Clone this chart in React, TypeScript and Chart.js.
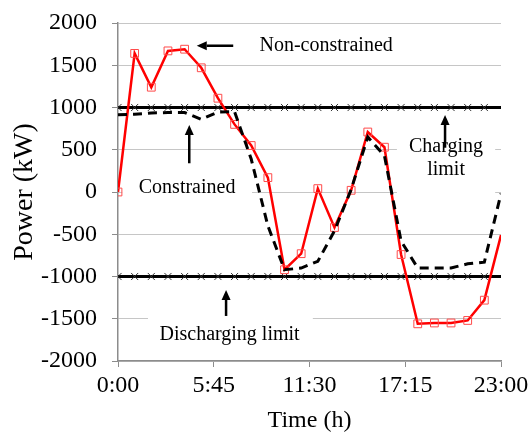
import React, { useEffect, useRef } from "react";
import { Chart, registerables } from "chart.js";

Chart.register(...registerables);

// Hourly time stamps (h)
const HOURS = [0, 1, 2, 3, 4, 5, 6, 7, 8, 9, 10, 11, 12, 13, 14, 15, 16, 17, 18, 19, 20, 21, 22, 23];

// Battery power without limits (kW)
const NON_CONSTRAINED = [
  0, 1640, 1240, 1670, 1690, 1470, 1110, 800, 550, 170, -920, -730,
  40, -420, 20, 710, 530, -740, -1560, -1550, -1550, -1520, -1280, -510,
];

// Battery power respecting charge/discharge limits (kW)
const CONSTRAINED = [
  915, 920, 935, 940, 940, 860, 945, 950, 390, -400, -920, -900,
  -820, -460, 30, 650, 430, -580, -900, -900, -900, -850, -830, -20,
];

const CHARGING_LIMIT = [
  1000, 1000, 1000, 1000, 1000, 1000, 1000, 1000, 1000, 1000, 1000, 1000,
  1000, 1000, 1000, 1000, 1000, 1000, 1000, 1000, 1000, 1000, 1000, 1000,
];

const DISCHARGING_LIMIT = [
  -1000, -1000, -1000, -1000, -1000, -1000, -1000, -1000, -1000, -1000, -1000, -1000,
  -1000, -1000, -1000, -1000, -1000, -1000, -1000, -1000, -1000, -1000, -1000, -1000,
];

const TIME_TICKS = [0, 5.75, 11.5, 17.25, 23];
const TIME_LABELS = ["0:00", "5:45", "11:30", "17:15", "23:00"];

const SERIF = "'Liberation Serif', 'Times New Roman', Times, serif";
const AXIS_GRAY = "#8c8c8c";
const GRID_GRAY = "#c6c6c6";

// White boxes behind the callout texts (hours / kW)
const LABEL_BOXES = [
  { h0: 0.25, h1: 8.05, v0: 240, v1: -95 },
  { h0: 16.75, h1: 22.65, v0: 620, v1: -50 },
  { h0: 1.8, h1: 11.7, v0: -1390, v1: -1890 },
];

// Callout texts, anchored at their centre (hours / kW)
const NOTES = [
  { lines: ["Non-constrained"], h: 12.5, v: 1730 },
  { lines: ["Constrained"], h: 4.15, v: 55 },
  { lines: ["Charging", "limit"], h: 19.7, v: 400 },
  { lines: ["Discharging limit"], h: 6.7, v: -1685 },
];

// Callout arrows, tail -> tip (hours / kW)
const ARROWS = [
  { h0: 6.92, v0: 1731, h1: 4.73, v1: 1731 },
  { h0: 4.28, v0: 340, h1: 4.28, v1: 793 },
  { h0: 19.64, v0: 524, h1: 19.64, v1: 911 },
  { h0: 6.49, v0: -1467, h1: 6.49, v1: -1160 },
];

const toPoints = (values: number[]) => values.map((v, i) => ({ x: HOURS[i], y: v }));

function drawArrow(ctx: CanvasRenderingContext2D, x0: number, y0: number, x1: number, y1: number) {
  const ang = Math.atan2(y1 - y0, x1 - x0);
  const head = 10;
  const half = 4.5;
  const bx = x1 - head * Math.cos(ang);
  const by = y1 - head * Math.sin(ang);
  ctx.beginPath();
  ctx.moveTo(x0, y0);
  ctx.lineTo(bx, by);
  ctx.stroke();
  ctx.beginPath();
  ctx.moveTo(x1, y1);
  ctx.lineTo(bx + half * Math.sin(ang), by - half * Math.cos(ang));
  ctx.lineTo(bx - half * Math.sin(ang), by + half * Math.cos(ang));
  ctx.closePath();
  ctx.fill();
}

const calloutPlugin = {
  id: "callouts",
  beforeDatasetsDraw(chart: any) {
    const { ctx, scales } = chart;
    const x = scales.x;
    const y = scales.y;
    ctx.save();
    ctx.fillStyle = "#ffffff";
    for (const b of LABEL_BOXES) {
      const px0 = x.getPixelForValue(b.h0);
      const px1 = x.getPixelForValue(b.h1);
      const py0 = y.getPixelForValue(b.v0);
      const py1 = y.getPixelForValue(b.v1);
      ctx.fillRect(px0, py0, px1 - px0, py1 - py0);
    }
    ctx.restore();
  },
  afterDatasetsDraw(chart: any) {
    const { ctx, scales } = chart;
    const x = scales.x;
    const y = scales.y;
    ctx.save();
    ctx.fillStyle = "#000";
    ctx.font = `20px ${SERIF}`;
    ctx.textAlign = "center";
    ctx.textBaseline = "middle";
    for (const n of NOTES) {
      const cx = x.getPixelForValue(n.h);
      const cy = y.getPixelForValue(n.v);
      const lh = 23;
      const top = cy - ((n.lines.length - 1) * lh) / 2;
      n.lines.forEach((line, i) => ctx.fillText(line, cx, top + i * lh));
    }
    ctx.strokeStyle = "#000";
    ctx.lineWidth = 2.5;
    for (const a of ARROWS) {
      drawArrow(
        ctx,
        x.getPixelForValue(a.h0),
        y.getPixelForValue(a.v0),
        x.getPixelForValue(a.h1),
        y.getPixelForValue(a.v1)
      );
    }
    ctx.restore();
  },
};

export default function App() {
  const canvasRef = useRef<HTMLCanvasElement | null>(null);

  useEffect(() => {
    const canvas = canvasRef.current;
    if (!canvas) return;
    const last = HOURS.length - 1;
    const limitStyle = {
      borderColor: "#000",
      borderWidth: 3,
      pointStyle: "crossRot" as const,
      pointRadius: (c: any) => (c.dataIndex === last ? 0 : 5),
      pointBorderColor: "#333",
      pointBorderWidth: 1,
      pointBackgroundColor: "#333",
      tension: 0,
      order: 3,
    };

    const chart = new Chart(canvas, {
      type: "line",
      data: {
        datasets: [
          {
            label: "Constrained",
            data: toPoints(CONSTRAINED),
            borderColor: "#000",
            borderWidth: 3,
            borderDash: [9, 6],
            pointRadius: 0,
            tension: 0,
            order: 1,
          },
          {
            label: "Non-constrained",
            data: toPoints(NON_CONSTRAINED),
            borderColor: "#ff0000",
            borderWidth: 2.5,
            pointStyle: "rect",
            pointRadius: (c: any) => (c.dataIndex === last ? 0 : 5.5),
            pointBorderColor: "#ff4a4a",
            pointBackgroundColor: "rgba(255,255,255,0)",
            pointBorderWidth: 1,
            tension: 0,
            order: 2,
          },
          { label: "Charging limit", data: toPoints(CHARGING_LIMIT), ...limitStyle },
          { label: "Discharging limit", data: toPoints(DISCHARGING_LIMIT), ...limitStyle },
        ],
      },
      options: {
        animation: false,
        responsive: false,
        maintainAspectRatio: false,
        layout: { padding: { top: 23, right: 29, left: 0, bottom: 0 } },
        plugins: {
          legend: { display: false },
          tooltip: { enabled: false },
        },
        scales: {
          x: {
            type: "linear",
            min: 0,
            max: 23,
            afterBuildTicks: (scale: any) => {
              scale.ticks = TIME_TICKS.map((v) => ({ value: v }));
            },
            afterFit: (scale: any) => {
              scale.height = 74;
              scale.paddingLeft = 0;
              scale.paddingRight = 0;
            },
            ticks: {
              autoSkip: false,
              maxRotation: 0,
              padding: 4,
              color: "#000",
              font: { family: SERIF, size: 24 },
              callback: (v: any) => TIME_LABELS[TIME_TICKS.indexOf(Number(v))],
            },
            grid: {
              drawOnChartArea: false,
              drawTicks: true,
              tickLength: 6,
              tickColor: AXIS_GRAY,
            },
            border: { color: AXIS_GRAY, width: 1.5 },
            title: {
              display: true,
              text: "Time (h)",
              color: "#000",
              font: { family: SERIF, size: 24 },
              padding: { top: 0, bottom: 0 },
            },
          },
          y: {
            min: -2000,
            max: 2000,
            afterFit: (scale: any) => {
              scale.width = 118;
              scale.paddingTop = 0;
              scale.paddingBottom = 0;
            },
            ticks: {
              stepSize: 500,
              padding: 15,
              color: "#000",
              font: { family: SERIF, size: 24 },
              callback: (v: any) => String(v),
            },
            grid: {
              color: GRID_GRAY,
              lineWidth: 1,
              tickLength: 6,
              tickColor: AXIS_GRAY,
            },
            border: { color: AXIS_GRAY, width: 1.5 },
            title: {
              display: true,
              text: "Power (kW)",
              color: "#000",
              font: { family: SERIF, size: 28 },
              padding: { top: 8, bottom: 0 },
            },
          },
        },
      },
      plugins: [calloutPlugin],
    });

    return () => chart.destroy();
  }, []);

  return (
    <div style={{ position: "fixed", left: 0, top: 0, width: 530, height: 435, background: "#fff" }}>
      <canvas ref={canvasRef} width={530} height={435} style={{ display: "block" }} />
    </div>
  );
}
